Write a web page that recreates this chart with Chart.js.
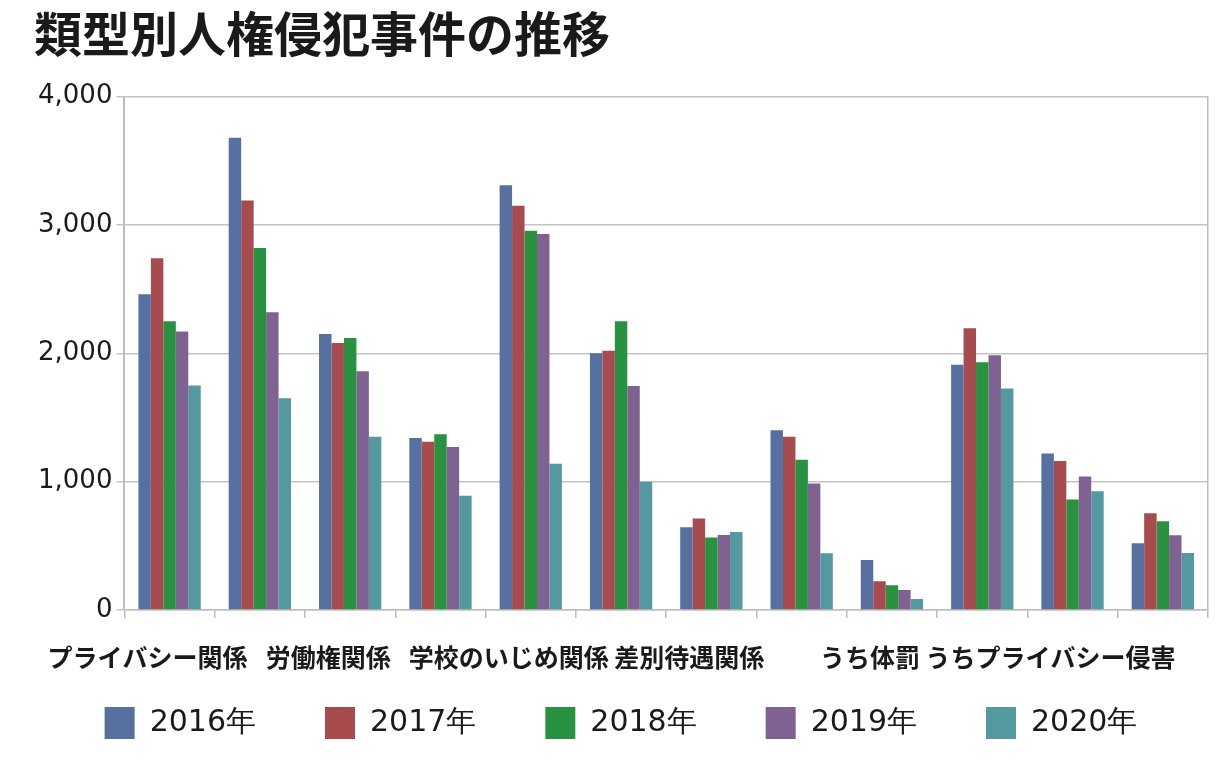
<!DOCTYPE html>
<html lang="ja">
<head>
<meta charset="utf-8">
<script src="https://cdn.jsdelivr.net/npm/chart.js@4"></script>
<style>
  html, body { margin: 0; padding: 0; background: #ffffff; }
  #wrap { width: 1216px; height: 774px; }
</style>
</head>
<body>
<div id="wrap"><canvas id="c"></canvas></div>
<script>
const categories = ['プライバシー関係', '', '労働権関係', '', '学校のいじめ関係', '', '差別待遇関係', '', 'うち体罰', '', 'うちプライバシー侵害', ''];
const seriesNames = ['2016年', '2017年', '2018年', '2019年', '2020年'];
const v2016 = [2460, 3680, 2150, 1340, 3310, 2000, 645, 1400, 390, 1910, 1220, 520];
const v2017 = [2740, 3190, 2080, 1310, 3150, 2020, 712, 1350, 224, 2195, 1160, 754];
const v2018 = [2250, 2820, 2120, 1370, 2955, 2250, 564, 1170, 193, 1930, 860, 692];
const v2019 = [2170, 2320, 1860, 1270, 2930, 1745, 585, 985, 156, 1985, 1040, 582];
const v2020 = [1750, 1650, 1350, 890, 1140, 1000, 608, 442, 86, 1725, 925, 444];
const yTicks = [0, 1000, 2000, 3000, 4000];

const colors = ['#5671a0', '#a74b4e', '#289240', '#7f6292', '#5599a0'];
const values = [v2016, v2017, v2018, v2019, v2020];

const cjk = '"Noto Sans CJK JP", "Noto Sans", sans-serif';

new Chart(document.getElementById('c'), {
  type: 'bar',
  data: {
    labels: categories,
    datasets: seriesNames.map((n, i) => ({
      label: n,
      data: values[i],
      backgroundColor: colors[i],
      borderWidth: 0,
      categoryPercentage: 0.69,
      barPercentage: 1.0
    }))
  },
  options: {
    responsive: true,
    maintainAspectRatio: false,
    animation: false,
    layout: { padding: { left: 34, right: 8, top: 5, bottom: 25 } },
    scales: {
      x: {
        offset: true,
        afterFit: (s) => { s.height = 28; },
        grid: { display: true, drawOnChartArea: false, drawTicks: true, tickLength: 8, color: '#bdbdbd', lineWidth: 1.5, offset: true },
        border: { display: true, color: '#bdbdbd', width: 1.5 },
        ticks: {
          autoSkip: false, maxRotation: 0, minRotation: 0,
          mirror: true,
          labelOffset: -22, padding: -62,
          color: '#1a1a1a',
          font: { family: cjk, size: 25, weight: 'bold' }
        }
      },
      y: {
        min: 0, max: 4000,
        afterBuildTicks: (s) => { s.ticks = yTicks.map(v => ({ value: v })); },
        grid: { color: '#c4c4c4', lineWidth: 1.5, drawTicks: true, tickLength: 8 },
        border: { display: true, color: '#bdbdbd', width: 2 },
        ticks: {
          padding: 4,
          color: '#1a1a1a',
          font: { family: '"DejaVu Sans", sans-serif', size: 26 },
          callback: (v) => v.toLocaleString('en-US')
        }
      },
      y2: {
        position: 'right',
        min: 0, max: 4000,
        grid: { drawOnChartArea: false, drawTicks: false },
        border: { display: true, color: '#bdbdbd', width: 1.5 },
        ticks: { display: false }
      }
    },
    plugins: {
      title: {
        display: true,
        text: '類型別人権侵犯事件の推移',
        align: 'start',
        color: '#1a1a1a',
        font: { family: cjk, size: 48, weight: 'bold' },
        padding: { top: 0, bottom: 34 }
      },
      legend: {
        position: 'bottom',
        labels: {
          boxWidth: 30, boxHeight: 32,
          padding: 69,
          color: '#1a1a1a',
          font: { family: '"DejaVu Sans", sans-serif', size: 30 }
        }
      },
      tooltip: { enabled: false }
    }
  }
});
</script>
</body>
</html>
